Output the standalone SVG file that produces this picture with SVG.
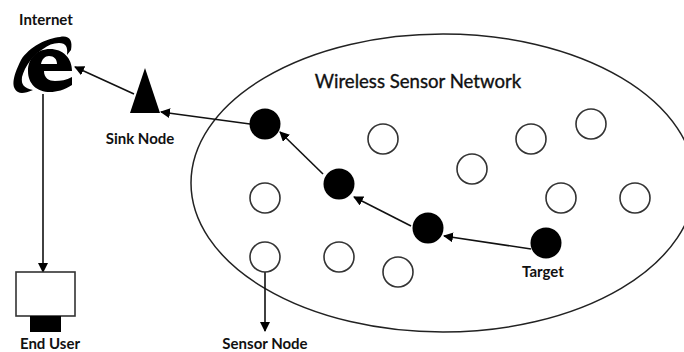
<svg xmlns="http://www.w3.org/2000/svg" width="684" height="352" viewBox="0 0 684 352">
<style>
text{font-family:Lato,"Liberation Sans",sans-serif;font-weight:700;font-size:15px;fill:#111;text-anchor:middle}
.n{fill:#fff;stroke:#333;stroke-width:1.6}
.b{fill:#000}
.c{fill:none;stroke:#111;stroke-width:1.6;marker-end:url(#a)}
</style>
<defs><marker id="a" markerUnits="userSpaceOnUse" markerWidth="12" markerHeight="12" refX="9" refY="5" orient="auto"><path d="M0 0L10 5L0 10Z" fill="#000"/></marker></defs>
<rect width="684" height="352" fill="#fff"/>
<g id="network"><ellipse cx="443" cy="183" rx="252" ry="149" fill="none" stroke="#222" stroke-width="1.5"/>
<text x="418" y="88" style="font-size:18.600px;font-weight:400;stroke:#111;stroke-width:.35px">Wireless Sensor Network</text></g>
<g id="connectors">
<path class="c" d="M134 94L75 67"/>
<path class="c" d="M250 124L161 112"/>
<path class="c" d="M323 174L280 132"/>
<path class="c" d="M411 226L354 197"/>
<path class="c" d="M531 249L444 236"/>
<path class="c" d="M43 94V272"/>
<path class="c" d="M265 272V331"/>
</g>
<g id="internet"><text x="46" y="25">Internet</text>
<path d="M72 71H44C44 78 49 81 55 81C61 81 66 80 72 77V85C64 90 57 92 50 92C37 92 28 84 28 71C28 58 37 49 50 49C63 49 72 58 72 71ZM41 64H57C57 59 54 56 49 56C45 56 42 59 41 64Z" fill="#000" fill-rule="evenodd"/>
<path d="M18 92C11 88 12 78 21 60C29 47 47 38 60 37C69 35 73 40 71 50L67 55C68 47 66 43 59 43C53 43 48 45 43 49C33 55 25 66 22 77C21 85 24 88 33 90C26 93 21 94 18 92Z" fill="#000"/></g>
<g id="sink"><path d="M145 68L160 113H130Z" fill="#000"/><text x="140" y="144">Sink Node</text></g>
<g id="user"><rect x="16" y="272" width="59" height="44" fill="#fff" stroke="#333" stroke-width="1.6"/><rect x="30" y="316" width="31" height="16" fill="#000"/><text x="50" y="349">End User</text></g>
<g id="sensors">
<circle class="b" cx="265" cy="124" r="15.500"/><circle class="b" cx="339" cy="184" r="15.500"/><circle class="b" cx="428" cy="228" r="15.500"/><circle class="b" cx="546" cy="243" r="15.500"/>
<circle class="n" cx="383" cy="139" r="15"/><circle class="n" cx="531" cy="139" r="15"/><circle class="n" cx="591" cy="124" r="15"/><circle class="n" cx="472" cy="169" r="15"/><circle class="n" cx="265" cy="198" r="15"/><circle class="n" cx="561" cy="198" r="15"/><circle class="n" cx="635" cy="198" r="15"/><circle class="n" cx="265" cy="257" r="15"/><circle class="n" cx="339" cy="257" r="15"/><circle class="n" cx="398" cy="272" r="15"/>
<text x="543" y="277">Target</text><text x="265" y="349">Sensor Node</text></g>
</svg>
